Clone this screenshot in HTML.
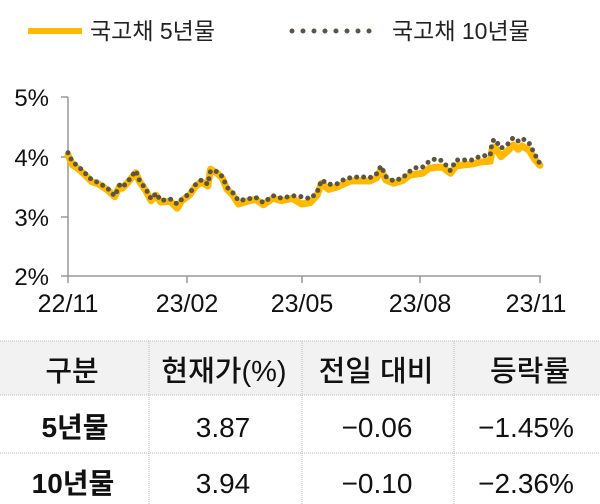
<!DOCTYPE html>
<html><head><meta charset="utf-8"><style>
body{margin:0;width:600px;height:504px;background:#fff;overflow:hidden;font-family:"Liberation Sans","Noto Sans CJK KR",sans-serif;}
svg{position:absolute;left:0;top:0}
</style></head><body>
<svg width="600" height="504" viewBox="0 0 600 504" font-family="Liberation Sans, Noto Sans CJK KR, sans-serif">
<line x1="28" y1="31" x2="82" y2="31" stroke="#FFB900" stroke-width="6"/>
<text x="90" y="39" font-size="23" fill="#222">국고채 5년물</text>
<line x1="292" y1="31" x2="380" y2="31" stroke="#595445" stroke-width="5" stroke-linecap="round" stroke-dasharray="0 11"/>
<text x="392" y="39" font-size="23" fill="#222">국고채 10년물</text>
<line x1="68" y1="97" x2="68" y2="277" stroke="#999" stroke-width="1.5"/>
<line x1="61" y1="97" x2="68" y2="97" stroke="#999" stroke-width="1.5"/>
<line x1="61" y1="157" x2="68" y2="157" stroke="#999" stroke-width="1.5"/>
<line x1="61" y1="217" x2="68" y2="217" stroke="#999" stroke-width="1.5"/>
<line x1="61" y1="276" x2="541" y2="276" stroke="#999" stroke-width="1.5"/>
<g stroke="#999" stroke-width="1.5"><line x1="68" y1="276" x2="68" y2="283"/><line x1="187" y1="276" x2="187" y2="283"/><line x1="302" y1="276" x2="302" y2="283"/><line x1="420" y1="276" x2="420" y2="283"/><line x1="540" y1="276" x2="540" y2="283"/></g>
<g font-size="24" fill="#111" text-anchor="end">
<text x="49" y="106">5%</text><text x="49" y="166">4%</text><text x="49" y="226">3%</text><text x="49" y="285">2%</text>
</g>
<g font-size="25" fill="#111" text-anchor="middle">
<text x="68" y="312">22/11</text><text x="187" y="312">23/02</text><text x="302" y="312">23/05</text><text x="420" y="312">23/08</text><text x="536" y="312">23/11</text>
</g>
<polyline id="p5" fill="none" stroke="#FFB900" stroke-width="7" stroke-linejoin="round" stroke-linecap="round" points=""/>
<polyline id="p10" fill="none" stroke="#595445" stroke-width="5" stroke-linecap="round" stroke-dasharray="0 7" points=""/>
<rect x="0" y="341" width="600" height="54" fill="#f2f2f2"/>
<g stroke="#bbb" stroke-width="1" stroke-dasharray="1 1">
<line x1="0" y1="341" x2="600" y2="341"/><line x1="0" y1="395" x2="600" y2="395"/><line x1="0" y1="453" x2="600" y2="453"/>
<line x1="149" y1="341" x2="149" y2="504"/><line x1="302" y1="341" x2="302" y2="504"/><line x1="454" y1="341" x2="454" y2="504"/>
</g>
<g font-size="29" fill="#111" text-anchor="middle" font-weight="500">
<text x="72" y="381">구분</text><text x="224" y="381">현재가(%)</text><text x="376" y="381">전일 대비</text><text x="530" y="381">등락률</text>
</g>
<g font-size="28" fill="#111" text-anchor="middle">
<text x="75" y="437" font-weight="bold">5년물</text><text x="223" y="437">3.87</text><text x="377" y="437">−0.06</text><text x="526" y="437">−1.45%</text>
<text x="73" y="493" font-weight="bold">10년물</text><text x="223" y="493">3.94</text><text x="377" y="493">−0.10</text><text x="526" y="493">−2.36%</text>
</g>
</svg>
<script>
function conv(s){return s.trim().split(/\s+/).map(function(p){var a=p.split(',');return ((+a[0]-180)/2.61+68).toFixed(1)+','+(80+(+a[1])/3).toFixed(1);}).join(' ');}
var a5="180,225 192,255 205,265 225,285 242,305 260,312 283,330 302,350 315,318 322,325 338,305 357,278 367,305 383,332 397,362 410,346 422,366 447,364 465,385 477,362 498,344 512,320 528,305 545,318 552,268 570,280 583,295 595,328 610,345 625,372 650,363 670,358 690,374 715,355 738,362 765,355 790,372 812,368 830,346 842,310 860,328 880,322 898,313 917,303 943,302 968,303 985,294 997,270 1010,300 1030,310 1053,302 1073,285 1090,282 1105,280 1123,265 1140,262 1158,262 1178,280 1193,258 1210,255 1235,252 1257,246 1282,244 1287,208 1294,200 1310,230 1328,212 1342,195 1355,208 1365,198 1383,210 1398,238 1412,256";
var a10="180,218 192,247 205,257 225,280 242,300 260,308 283,325 302,348 315,315 322,322 338,302 357,272 367,302 383,327 397,357 410,340 422,362 447,357 465,372 477,358 498,340 512,315 528,300 545,313 552,272 570,275 583,290 595,322 610,338 625,362 650,357 670,352 690,368 715,347 738,355 765,347 790,350 812,356 830,338 842,300 860,313 880,313 898,300 917,293 943,290 968,293 985,282 997,258 1010,290 1030,303 1053,294 1073,273 1090,262 1105,262 1123,244 1140,236 1158,243 1178,272 1193,240 1210,240 1235,240 1257,228 1282,226 1287,185 1294,178 1310,205 1328,192 1342,173 1355,183 1365,175 1383,188 1398,222 1412,252";
document.getElementById('p5').setAttribute('points',conv(a5));
document.getElementById('p10').setAttribute('points',conv(a10));
</script>
</body></html>
